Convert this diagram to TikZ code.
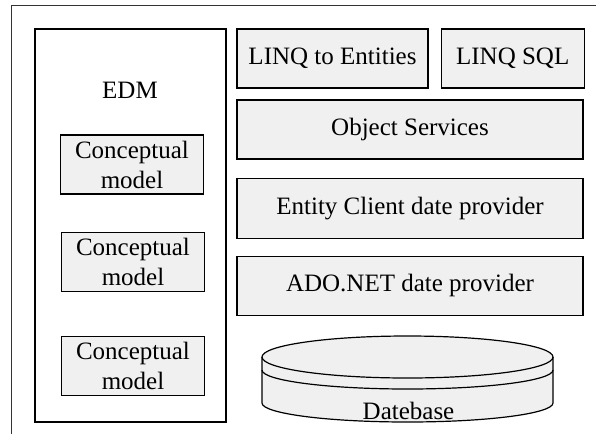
\documentclass[tikz,border=0pt]{standalone}
\usepackage{fontspec}
\setmainfont{Liberation Serif}
\usetikzlibrary{positioning}
\tikzstyle{layer} = [rectangle, minimum width=346pt, minimum height=59pt, inner sep=0pt, text centered, draw=black, fill=gray!12, line width=1.2pt, font=\fontsize{25}{30}\selectfont]
\tikzstyle{model} = [layer, minimum width=143pt, align=center]
\tikzstyle{frame} = [rectangle, inner sep=0pt, draw=black, line width=1.2pt]

\begin{document}
\begin{tikzpicture}[x=1pt, y=1pt]
    \useasboundingbox (0,0) rectangle (596,-434);

    % Outer frame (cut at the right and bottom)
    \draw [line width=1pt, black!80] (11,-434) -- (11,-5) -- (596,-5);

    % EDM column
    \node (edm) [frame, minimum width=191pt, minimum height=393pt] at (130.5,-225.5) {};
    \node (edmlabel) [font=\fontsize{25}{30}\selectfont] at (130,-90) {EDM};
    \node (model1) [model] at (132,-164.5) {Conceptual\\model};
    \node (model2) [model] at (133,-262) {Conceptual\\model};
    \node (model3) [model] at (133,-366) {Conceptual\\model};

    % Layers
    \node (linqent) [layer, minimum width=191pt] at (332.5,-58.5) {LINQ to Entities};
    \node (linqsql) [layer, minimum width=143pt, right=12pt of linqent] {LINQ SQL};
    \node (objsrv) [layer] at (410,-129.5) {Object Services};
    \node (entcli) [layer, minimum height=60pt, below=18pt of objsrv] {Entity Client date provider};
    \node (adonet) [layer, below=17pt of entcli] {ADO.NET date provider};

    % Database
    \fill [gray!12] (262,-357) arc [start angle=180, end angle=0, x radius=145.5, y radius=21]
        -- (553,-403) arc [start angle=360, end angle=180, x radius=145.5, y radius=19] -- cycle;
    \draw [line width=1.2pt] (407.5,-357) ellipse [x radius=145.5, y radius=21];
    \draw [line width=1.2pt] (262,-370) arc [start angle=180, end angle=360, x radius=145.5, y radius=19];
    \draw [line width=1.2pt] (262,-357) -- (262,-403) arc [start angle=180, end angle=360, x radius=145.5, y radius=19] -- (553,-357);
    \node (db) [font=\fontsize{25}{30}\selectfont, anchor=base] at (408.5,-419) {Datebase};

\end{tikzpicture}
\end{document}
